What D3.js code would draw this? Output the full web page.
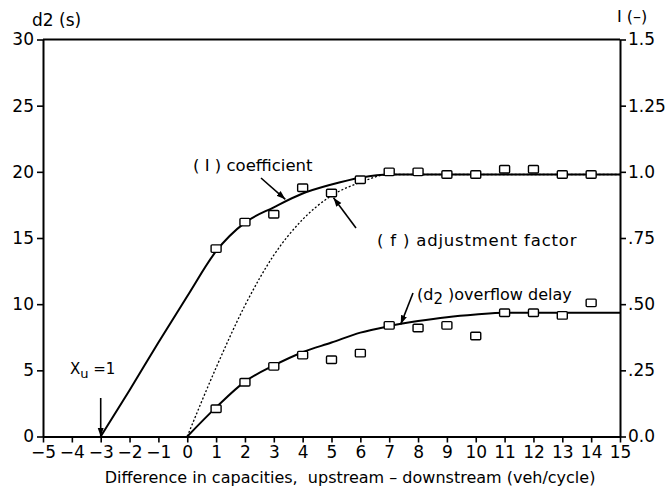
<!DOCTYPE html>
<html>
<head>
<meta charset="utf-8">
<script src="https://cdn.jsdelivr.net/npm/d3@7"></script>
<style>
  html, body { margin: 0; padding: 0; background: #fff; }
  svg { display: block; font-family: "DejaVu Sans", sans-serif; }
  text { fill: #000; }
</style>
</head>
<body>
<svg id="chart" width="667" height="489"></svg>
<script>
// x: difference in capacities, upstream - downstream (veh/cycle)
const xTicks = [-5,-4,-3,-2,-1,0,1,2,3,4,5,6,7,8,9,10,11,12,13,14,15];

// left axis: overflow delay d2 (s)
const leftTicks = [0, 5, 10, 15, 20, 25, 30];
// right axis: coefficient I (-)
const rightTicks = [0, 0.25, 0.5, 0.75, 1.0, 1.25, 1.5];
const rightTickLabels = ["0.0", ".25", ".50", ".75", "1.0", "1.25", "1.5"];

// fitted curve for coefficient I (right axis)
const curveIx = [-3, -2, -1, 0, 1, 2, 3, 4, 5, 6, 7, 15];
const curveIy = [0, 0.175, 0.355, 0.53, 0.70, 0.808, 0.866, 0.918, 0.952, 0.978, 0.99, 0.99];

// adjustment factor f (right axis, dotted)
const curveFx = [0, 1, 2, 3, 4, 5, 6, 7, 15];
const curveFy = [0, 0.26, 0.495, 0.685, 0.82, 0.91, 0.96, 0.99, 0.99];

// fitted overflow delay d2 (left axis)
const curveDx = [0, 1, 2, 3, 4, 5, 6, 7, 8, 9, 10, 11, 15];
const curveDy = [0, 2.2, 4.15, 5.37, 6.37, 7.1, 7.85, 8.34, 8.72, 9.02, 9.22, 9.35, 9.35];

// observed coefficient I (right axis)
const obsIx = [1, 2, 3, 4, 5, 6, 7, 8, 9, 10, 11, 12, 13, 14];
const obsIy = [0.71, 0.81, 0.84, 0.94, 0.92, 0.97, 1.0, 1.0, 0.99, 0.99, 1.01, 1.01, 0.99, 0.99];

// observed overflow delay d2 (left axis)
const obsDx = [1, 2, 3, 4, 5, 6, 7, 8, 9, 10, 11, 12, 13, 14];
const obsDy = [2.1, 4.1, 5.3, 6.15, 5.8, 6.3, 8.4, 8.2, 8.4, 7.6, 9.35, 9.35, 9.15, 10.1];

const svg = d3.select("#chart");
const L = 43, R = 620, T = 39.5, B = 436.5;

const x = d3.scaleLinear().domain([-5, 15]).range([L, R]);
const yL = d3.scaleLinear().domain([0, 30]).range([B, T]);
const yR = d3.scaleLinear().domain([0, 1.5]).range([B, T]);

const fontSize = 17;

// frame: top border line
svg.append("line").attr("x1", L).attr("x2", R).attr("y1", T).attr("y2", T)
  .attr("stroke", "#000").attr("stroke-width", 2);

// axes
const gx = svg.append("g").attr("transform", `translate(0,${B})`)
  .call(d3.axisBottom(x).tickValues(xTicks).tickFormat(d => d < 0 ? "\u2212" + Math.abs(d) : d)
    .tickSizeInner(6).tickSizeOuter(0).tickPadding(3));
const gl = svg.append("g").attr("transform", `translate(${L},0)`)
  .call(d3.axisLeft(yL).tickValues(leftTicks).tickSizeInner(6).tickSizeOuter(0).tickPadding(3));
const gr = svg.append("g").attr("transform", `translate(${R},0)`)
  .call(d3.axisRight(yR).tickValues(rightTicks).tickFormat((d, i) => rightTickLabels[i])
    .tickSizeInner(6).tickSizeOuter(0).tickPadding(2));

[gx, gl, gr].forEach(g => {
  g.select(".domain").attr("stroke", "#000").attr("stroke-width", 2);
  g.selectAll(".tick line").attr("stroke", "#000").attr("stroke-width", 1.6);
  g.selectAll(".tick text").attr("font-size", fontSize).attr("font-family", "DejaVu Sans, sans-serif").attr("fill", "#000");
});

// axis names
svg.append("text").attr("x", 32).attr("y", 26).attr("font-size", fontSize).text("d2 (s)");
svg.append("text").attr("x", 617).attr("y", 22).attr("font-size", 16).text("I (\u2013)");
svg.append("text").attr("x", 350).attr("y", 483).attr("text-anchor", "middle")
  .attr("font-size", 16).style("white-space", "pre")
  .text("Difference in capacities,  upstream \u2013 downstream (veh/cycle)");

// curves
const toPts = (xs, ys) => xs.map((v, i) => [v, ys[i]]);
const lineR = d3.line().x(d => x(d[0])).y(d => yR(d[1])).curve(d3.curveMonotoneX);
const lineL = d3.line().x(d => x(d[0])).y(d => yL(d[1])).curve(d3.curveMonotoneX);

svg.append("path").attr("d", lineR(toPts(curveFx, curveFy)))
  .attr("fill", "none").attr("stroke", "#000").attr("stroke-width", 1.3).attr("stroke-dasharray", "2,2");
svg.append("path").attr("d", lineR(toPts(curveIx, curveIy)))
  .attr("fill", "none").attr("stroke", "#000").attr("stroke-width", 2);
svg.append("path").attr("d", lineL(toPts(curveDx, curveDy)))
  .attr("fill", "none").attr("stroke", "#000").attr("stroke-width", 2);

// observation markers
const sw = 10, sh = 7.5;
svg.append("g").selectAll("rect").data(toPts(obsIx, obsIy)).join("rect")
  .attr("x", d => x(d[0]) - sw / 2).attr("y", d => yR(d[1]) - sh / 2)
  .attr("width", sw).attr("height", sh).attr("rx", 1)
  .attr("fill", "#fff").attr("stroke", "#000").attr("stroke-width", 1.4);
svg.append("g").selectAll("rect").data(toPts(obsDx, obsDy)).join("rect")
  .attr("x", d => x(d[0]) - sw / 2).attr("y", d => yL(d[1]) - sh / 2)
  .attr("width", sw).attr("height", sh).attr("rx", 1)
  .attr("fill", "#fff").attr("stroke", "#000").attr("stroke-width", 1.4);

// arrow heads
const defs = svg.append("defs");
defs.append("marker").attr("id", "head").attr("viewBox", "0 0 10 10")
  .attr("refX", 10).attr("refY", 5).attr("markerWidth", 9).attr("markerHeight", 9)
  .attr("markerUnits", "userSpaceOnUse").attr("orient", "auto")
  .append("path").attr("d", "M0,1.5 L10,5 L0,8.5 Z").attr("fill", "#000");

function arrow(x1, y1, x2, y2) {
  svg.append("line").attr("x1", x1).attr("y1", y1).attr("x2", x2).attr("y2", y2)
    .attr("stroke", "#000").attr("stroke-width", 1.6).attr("marker-end", "url(#head)");
}

// annotations
svg.append("text").attr("x", 193).attr("y", 171).attr("font-size", 16.5).style("white-space", "pre")
  .text("( I ) coefficient");
arrow(261, 178, x(3.4), yR(0.9) + 1);

svg.append("text").attr("x", 377).attr("y", 246).attr("font-size", 16.5)
  .attr("letter-spacing", 0.8).style("white-space", "pre")
  .text("( f ) adjustment factor");
arrow(356, 228, x(5.0) + 2, yR(0.91) + 2);

const d2t = svg.append("text").attr("x", 417).attr("y", 300).attr("font-size", 16).style("white-space", "pre");
d2t.append("tspan").text("(d");
d2t.append("tspan").attr("dy", 4).attr("font-size", 15).text("2");
d2t.append("tspan").attr("dy", -4).text(" )overflow delay");
arrow(413, 293, x(7.4), yL(8.55) + 1);

const xu = svg.append("text").attr("x", 70).attr("y", 374).attr("font-size", 15).style("white-space", "pre");
xu.append("tspan").text("X");
xu.append("tspan").attr("dy", 4).attr("font-size", 13).text("u");
xu.append("tspan").attr("dy", -4).text(" =1");
arrow(x(-3), 398, x(-3), B);
</script>
</body>
</html>
